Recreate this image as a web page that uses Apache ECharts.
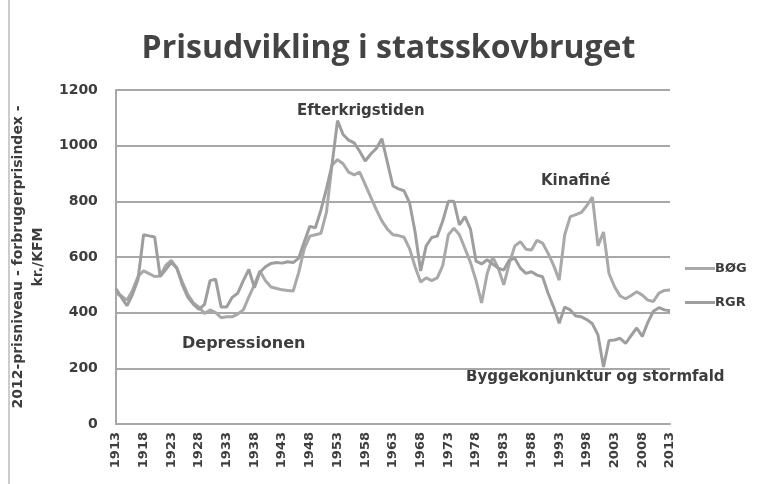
<!DOCTYPE html>
<html>
<head>
<meta charset="utf-8">
<script src="https://cdn.jsdelivr.net/npm/echarts@6/dist/echarts.min.js"></script>
<style>
  html, body { margin: 0; padding: 0; background: #fff; }
  #chart { width: 777px; height: 484px; }
</style>
</head>
<body>
<div id="chart"></div>
<script>
// år 1913-2013
const years = [];
for (let y = 1913; y <= 2013; y++) years.push(String(y));

// 2012-prisniveau, kr./KFM
const bog = [
  469, 460, 445, 480, 530, 550, 540, 530, 532, 570,
  588, 560, 510, 465, 435, 420, 397, 410, 400, 382,
  385, 385, 395, 410, 457, 500, 550, 515, 492, 487,
  482, 480, 478, 545, 630, 675, 680, 685, 760, 930,
  950, 935, 905, 895, 905, 860, 815, 770, 730, 700,
  680, 677, 671, 630, 565, 510, 525, 515, 525, 570,
  680, 703, 680, 630, 580, 515, 435, 540, 600, 560,
  500, 577, 640, 655, 628, 625, 660, 650, 613, 570,
  517, 680, 745, 752, 760, 785, 815, 640, 690, 540,
  493, 460, 450, 462, 475, 463, 445, 440, 470, 480,
  481
];
const rgr = [
  487, 455, 425, 465, 520, 680, 676, 672, 530, 555,
  580, 560, 500, 455, 430, 412, 430, 515, 520, 420,
  420, 455, 470, 515, 555, 490, 545, 565, 577, 580,
  578, 583, 580, 596, 655, 710, 705, 768, 845, 930,
  1090, 1040, 1020, 1010, 980, 945, 970, 990, 1025, 940,
  855, 845, 838, 795, 690, 550, 640, 670, 675, 730,
  800, 800, 715, 745, 700, 585, 575, 590, 575, 560,
  553, 589, 595, 560, 541, 547, 535, 529, 470, 420,
  362, 420, 410, 388, 385, 375, 360, 320, 205, 300,
  302, 308, 290, 318, 345, 315, 365, 405, 418, 410,
  407
];

const txt = '#3d3d3d';
const gridGray = '#a8a8a8';
const font = '"DejaVu Sans", sans-serif';

const myChart = echarts.init(document.getElementById('chart'));
const option = {
  backgroundColor: '#fff',
  animation: false,
  title: {
    text: 'Prisudvikling i statsskovbruget',
    left: 'center',
    top: 28,
    textStyle: { fontFamily: '"Open Sans", sans-serif', fontSize: 32, fontWeight: 'bold', color: '#444' }
  },
  grid: { left: 105, right: 107, top: 90, bottom: 60 },
  legend: {
    orient: 'vertical',
    left: 680,
    top: 257,
    itemGap: 21,
    itemWidth: 30,
    itemHeight: 3,
    icon: 'rect',
    textStyle: { fontFamily: font, fontSize: 13, fontWeight: 'bold', color: txt, padding: [0, 0, 0, -5] },
    data: ['BØG', 'RGR']
  },
  xAxis: {
    type: 'category',
    data: years,
    boundaryGap: false,
    axisLine: { show: true, lineStyle: { color: gridGray, width: 2 } },
    axisTick: { show: false },
    axisLabel: {
      interval: 4,
      rotate: 90,
      margin: 8,
      fontFamily: font,
      fontSize: 13,
      fontWeight: 'bold',
      color: txt
    }
  },
  yAxis: {
    type: 'value',
    min: 0,
    max: 1200,
    interval: 200,
    name: '2012-prisniveau - forbrugerprisindex -\nkr./KFM',
    nameLocation: 'middle',
    nameRotate: 90,
    nameGap: 60,
    nameTextStyle: { fontFamily: font, fontSize: 14, fontWeight: 'bold', color: txt, lineHeight: 20, align: 'center' },
    axisLine: { show: true, lineStyle: { color: gridGray, width: 2 } },
    axisTick: { show: false },
    axisLabel: {
      margin: 18,
      fontFamily: font,
      fontSize: 14,
      fontWeight: 'bold',
      color: txt,
      formatter: function (v) { return String(v); }
    },
    splitLine: { lineStyle: { color: gridGray, width: 2 } }
  },
  series: [
    {
      name: 'BØG',
      type: 'line',
      data: bog,
      symbol: 'none',
      color: '#a9a9a9',
      lineStyle: { width: 3, color: '#a9a9a9' }
    },
    {
      name: 'RGR',
      type: 'line',
      data: rgr,
      symbol: 'none',
      color: '#9e9e9e',
      lineStyle: { width: 3, color: '#9e9e9e' }
    }
  ],
  graphic: [
    { type: 'line', shape: { x1: 9, y1: 0, x2: 9, y2: 484 }, style: { stroke: '#bbb', lineWidth: 1.5 } },
    { type: 'text', left: 297, top: 104, style: { text: 'Efterkrigstiden', font: 'bold 15px ' + font, fill: txt } },
    { type: 'text', left: 541, top: 174, style: { text: 'Kinafiné', font: 'bold 15px ' + font, fill: txt } },
    { type: 'text', left: 182, top: 336, style: { text: 'Depressionen', font: 'bold 16px ' + font, fill: txt } },
    { type: 'text', left: 466, top: 370, style: { text: 'Byggekonjunktur og stormfald', font: 'bold 15px ' + font, fill: txt } }
  ]
};
myChart.setOption(option);
window.addEventListener('resize', function () {
  myChart.resize();
});
</script>
</body>
</html>
